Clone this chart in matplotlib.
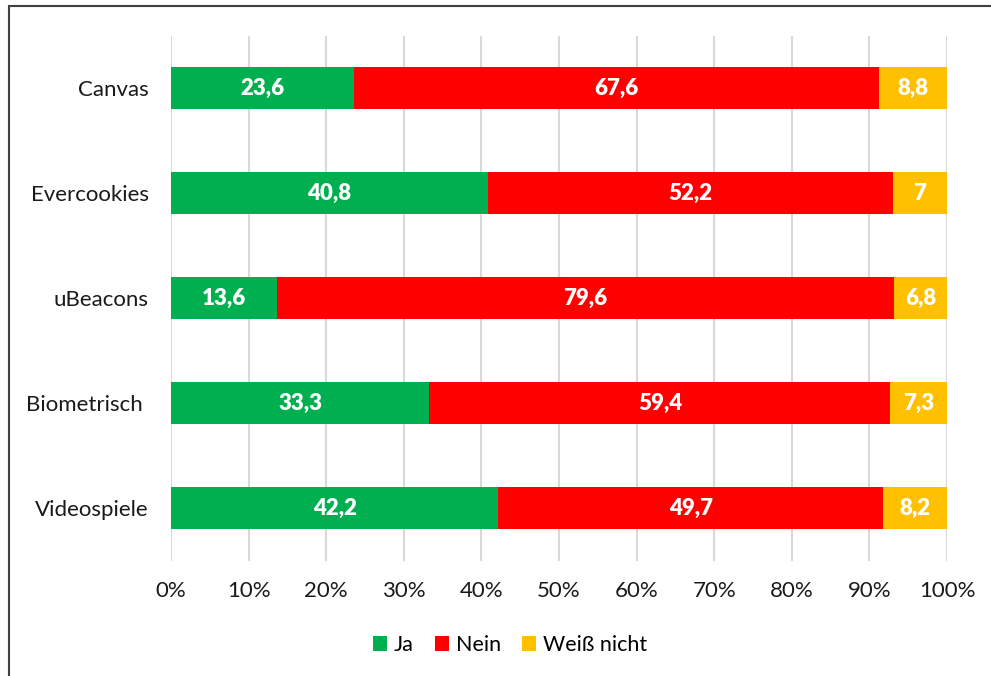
import numpy as np
import matplotlib.pyplot as plt
from matplotlib.patches import Rectangle

plt.rcParams['font.family'] = ['Lato', 'DejaVu Sans']

# data (top to bottom as shown)
categories = ["Canvas", "Evercookies", "uBeacons", "Biometrisch ", "Videospiele"]
ja = [23.6, 40.8, 13.6, 33.3, 42.2]
nein = [67.6, 52.2, 79.6, 59.4, 49.7]
weiss_nicht = [8.8, 7, 6.8, 7.3, 8.2]
series_names = ["Ja", "Nein", "Weiß nicht"]
colors = ["#00B050", "#FF0000", "#FFC000"]
x_ticks = [0, 10, 20, 30, 40, 50, 60, 70, 80, 90, 100]

W, H = 991, 676
fig = plt.figure(figsize=(W / 100, H / 100), dpi=100)
ax = fig.add_axes([171 / W, 1 - 560.5 / H, (947 - 171) / W, (560.5 - 35.5) / H])

vals = np.array([ja, nein, weiss_nicht], dtype=float)
totals = vals.sum(axis=0)
pct = vals / totals * 100
ypos = np.arange(len(categories))

left = np.zeros(len(categories))
for i, name in enumerate(series_names):
    bars = ax.barh(ypos, pct[i], left=left, height=0.4, color=colors[i],
                   label=name, zorder=3)
    for j, b in enumerate(bars):
        txt = f"{vals[i, j]:g}".replace(".", ",")
        ax.text(left[j] + pct[i, j] / 2, ypos[j], txt, ha="center", va="center",
                color="white", fontsize=16, fontweight="heavy", zorder=4)
    left += pct[i]

ax.set_xlim(0, 100)
ax.set_ylim(len(categories) - 0.5, -0.5)
ax.set_xticks(x_ticks)
ax.set_xticklabels([f"{t}%" for t in x_ticks])
ax.set_yticks(ypos)
ax.set_yticklabels(categories)
ax.grid(axis="x", color="#D9D9D9", linewidth=1.5, zorder=0)
for s in ax.spines.values():
    s.set_visible(False)
ax.tick_params(axis="x", length=0, pad=15, labelsize=16, colors="#1a1a1a")
ax.tick_params(axis="y", length=0, pad=16, labelsize=16, colors="#1a1a1a")

fig.legend(loc="center", bbox_to_anchor=(510 / W, 1 - 645 / H), ncol=3,
           frameon=False, fontsize=15.5, handlelength=0.65, handleheight=0.65,
           handletextpad=0.3, columnspacing=1.0)

# outer chart border (cropped on right and bottom)
fig.patches.append(Rectangle((9 / W, -0.1), 1.1, 1 - 6 / H + 0.1,
                             transform=fig.transFigure, fill=False,
                             edgecolor="#404040", linewidth=1.5))

fig.savefig("out.png", dpi=100)
